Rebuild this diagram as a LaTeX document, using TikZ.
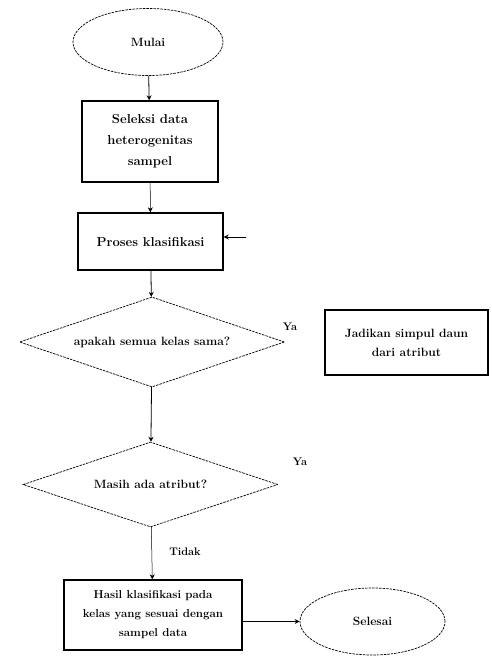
\documentclass[tikz,border=0pt]{standalone}
\usetikzlibrary{shapes.geometric,arrows.meta}
\begin{document}
\begin{tikzpicture}[x=1pt,y=-1pt,
  term/.style={ellipse,draw,line width=0.7pt,dash pattern=on 2.5pt off 1pt,inner sep=0pt,font=\bfseries\fontsize{12}{14}\selectfont},
  procbox/.style={rectangle,draw,line width=1.4pt,inner sep=0pt,align=center,font=\bfseries\fontsize{13}{21}\selectfont},
  decide/.style={diamond,draw,line width=0.7pt,dash pattern=on 2.5pt off 1pt,inner sep=0pt,font=\bfseries\fontsize{12}{14}\selectfont},
  lbl/.style={font=\bfseries\fontsize{11}{13}\selectfont,inner sep=1pt},
  flow/.style={-{Stealth[length=5pt,width=5pt]},line width=0.8pt}]
\useasboundingbox (0,0) rectangle (491,656);
\node[term,minimum width=150pt,minimum height=67pt] (start) at (148,42) {Mulai};
\node[procbox,minimum width=136pt,minimum height=81pt] (sel) at (150,141.5) {Seleksi data\\heterogenitas\\sampel};
\node[procbox,minimum width=145pt,minimum height=57pt] (proc) at (150.5,241.5) {Proses klasifikasi};
\node[decide,shape aspect=2.94,minimum width=265pt,minimum height=90pt] (d1) at (152,342) {apakah semua kelas sama?};
\node[procbox,minimum width=163pt,minimum height=65pt,font=\bfseries\fontsize{12}{19}\selectfont] (leaf) at (406.5,342.5) {Jadikan simpul daun\\dari atribut};
\node[decide,shape aspect=3,minimum width=255pt,minimum height=85pt] (d2) at (150.5,484.5) {Masih ada atribut?};
\node[procbox,minimum width=178pt,minimum height=70pt,font=\bfseries\fontsize{11.5}{19}\selectfont] (res) at (153,615) {Hasil klasifikasi pada\\kelas yang sesuai dengan\\sampel data};
\node[term,minimum width=145pt,minimum height=67pt] (finish) at (372.5,621.5) {Selesai};
\node[lbl] (ya1) at (290,327) {Ya};
\node[lbl] (ya2) at (300,462) {Ya};
\node[lbl] (tidak) at (185,552) {Tidak};
\coordinate (loopin) at (246,237);
\draw[flow] (start) -- (sel);
\draw[flow,line width=0.5pt] (sel) -- (proc);
\draw[flow] (proc) -- (d1);
\draw[flow] (d1) -- (d2);
\draw[flow,line width=0.5pt] (d2) -- (res);
\draw[flow] (res.east |- finish) -- (finish);
\draw[flow] (loopin) -- (proc.east |- loopin);
\end{tikzpicture}
\end{document}
